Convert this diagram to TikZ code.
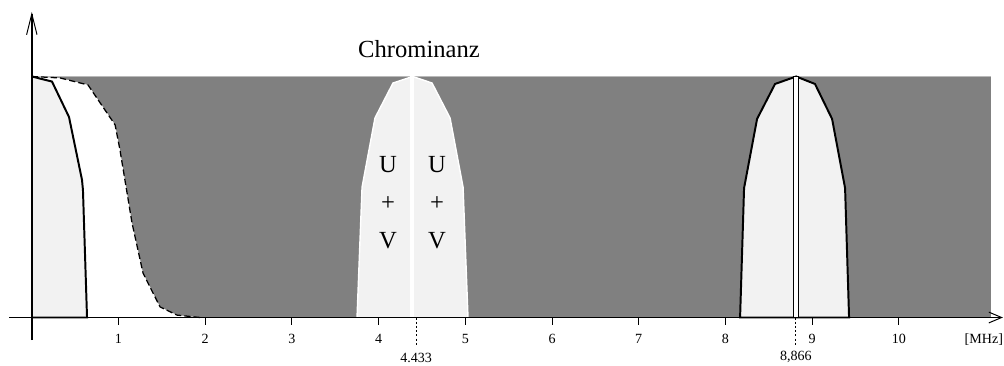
\documentclass[tikz,border=0pt]{standalone}
\usepackage{fontspec}
\setmainfont{Liberation Serif}
\usetikzlibrary{arrows.meta}
\begin{document}
\begin{tikzpicture}[x=2.1675cm, y=6.025cm, font=\fontsize{10}{12}\selectfont,
	band/.style={fill=gray!10, line width=1.4pt},
	bigtext/.style={font=\fontsize{17.5}{27}\selectfont, align=center}]
	\useasboundingbox (-0.3668,-0.2012) rectangle (11.213,1.3174);
	% Hintergrund (Luminanz)
	\fill[gray] (0,0) rectangle (11.06,1);
	\draw[gray!55, line width=0.5pt] (0,1) -- (11.06,1);
	\fill[white] (0,0) -- (0,1) -- (0.325,0.994) -- (0.648,0.965) -- (0.961,0.799) -- (1.017,0.695) -- (1.156,0.392) -- (1.283,0.184) -- (1.479,0.044) -- (1.675,0.01) -- (1.94,0) -- cycle;
	\draw[line width=0.9pt, dash pattern=on 4.5pt off 2.2pt] (0,1) -- (0.325,0.994) -- (0.648,0.965) -- (0.961,0.799) -- (1.017,0.695) -- (1.156,0.392) -- (1.283,0.184) -- (1.479,0.044) -- (1.675,0.01) -- (1.94,0);
	\draw[band] (0,1) -- (0.233,0.979) -- (0.429,0.832) -- (0.579,0.571) -- (0.59,0.529) -- (0.637,0) -- (0,0);
	% Chrominanz
	\draw[fill=gray!10, draw=white, line width=1pt] (3.751,0) -- (3.809,0.541) -- (3.958,0.828) -- (4.166,0.973) -- (4.391,1) -- (4.616,0.973) -- (4.824,0.828) -- (4.974,0.541) -- (5.031,0) -- cycle;
	\draw[white, line width=0.1cm] (4.382,0) -- (4.382,1);
	\node[bigtext] (uvl) at (4.108,0.475) {U\\+\\V};
	\node[bigtext] (uvr) at (4.674,0.475) {U\\+\\V};
	\node[font=\fontsize{17.5}{20}\selectfont] (chroma) at (4.466,1.115) {Chrominanz};
	% zweites Band
	\draw[band] (8.169,0) -- (8.215,0.537) -- (8.365,0.824) -- (8.572,0.969) -- (8.815,1) -- (9.033,0.969) -- (9.23,0.824) -- (9.38,0.537) -- (9.426,0) -- cycle;
	\draw[fill=white, line width=0.8pt] (8.783,0) rectangle (8.841,1);
	% Achsen
	\draw[line width=0.7pt, -{Straight Barb[length=0.32cm, width=0.27cm]}] (-0.263,0) -- (11.2,0);
	\draw[line width=1.4pt, -{Straight Barb[length=0.52cm, width=0.26cm, line width=0.7pt]}] (0,-0.0934) -- (0,1.268);
	\foreach \i in {1,...,10}{
		\draw[line width=0.7pt] (\i,0) -- (\i,-0.033);
		\node (t\i) at (\i,-0.089) {\i};
	}
	\node (mhz) at (10.98,-0.093) {[MHz]};
	\draw[line width=0.7pt, dash pattern=on 1.5pt off 1.5pt] (4.433,0) -- (4.433,-0.114);
	\node (fc1) at (4.433,-0.168) {4.433};
	\draw[line width=0.7pt, dash pattern=on 1.5pt off 1.5pt] (8.812,0) -- (8.812,-0.114);
	\node (fc2) at (8.812,-0.164) {8,866};
\end{tikzpicture}
\end{document}
